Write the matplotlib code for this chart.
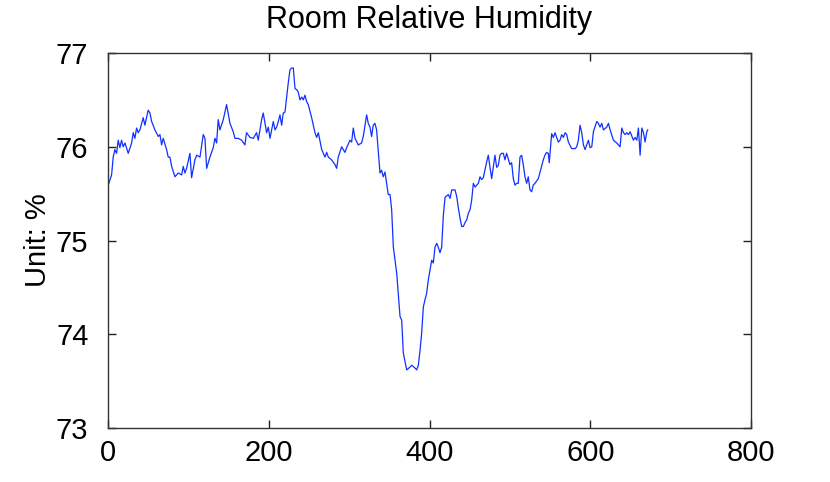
import matplotlib
matplotlib.use("Agg")
import matplotlib.pyplot as plt

# samples (sample index, relative humidity %)
sample = [0, 4.6, 6.6, 8.7, 10.8, 12.8, 14.9, 17.0, 19.0, 21.2, 25.3, 29.5, 31.5, 33.6, 35.7,
          37.7, 39.8, 43.9, 46.0, 50.1, 52.3, 54.4, 58.5, 62.6, 64.7, 66.8, 68.8, 73.0, 75.0,
          77.1, 79.3, 83.4, 87.5, 91.7, 93.7, 95.8, 97.9, 102.0, 104.1, 108.2, 110.4, 114.5,
          118.6, 120.7, 122.8, 126.9, 131.0, 133.1, 135.2, 137.2, 139.3, 143.5, 147.6, 151.8,
          155.9, 158.0, 162.1, 166.3, 170.4, 172.4, 176.7, 180.8, 184.9, 187.0, 191.2, 193.2,
          197.4, 199.5, 201.6, 205.7, 207.8, 209.9, 211.9, 214.0, 216.1, 218.1, 220.2, 222.3,
          224.3, 226.4, 228.5, 230.6, 232.7, 234.8, 236.8, 238.9, 241.0, 243.0, 245.1, 247.2,
          249.2, 253.4, 257.5, 259.6, 261.7, 265.9, 270.0, 272.1, 274.1, 278.3, 282.4, 284.5,
          286.5, 290.7, 294.8, 296.9, 301.1, 303.1, 305.2, 307.3, 311.4, 315.5, 317.6, 321.8,
          323.8, 325.9, 328.0, 330.0, 332.1, 334.2, 338.4, 340.4, 342.5, 344.6, 348.7, 350.9,
          352.9, 355.0, 359.2, 363.3, 365.4, 367.4, 371.6, 375.7, 377.8, 381.9, 384.0, 386.1,
          388.2, 390.2, 392.3, 394.4, 396.5, 398.5, 402.7, 404.7, 406.8, 408.9, 410.9, 413.0,
          415.1, 417.2, 419.3, 423.4, 425.5, 427.6, 431.7, 433.8, 435.8, 437.9, 440.0, 442.1,
          444.1, 446.2, 448.3, 450.4, 452.4, 454.5, 456.6, 460.7, 462.8, 464.8, 466.9, 471.1,
          473.1, 475.2, 477.3, 481.4, 483.5, 485.5, 487.6, 489.7, 491.8, 493.8, 495.9, 500.0,
          502.1, 504.2, 506.3, 508.3, 510.4, 512.5, 514.5, 516.6, 518.7, 520.8, 522.8, 524.9,
          527.0, 529.0, 531.1, 535.3, 539.4, 541.5, 543.5, 545.6, 547.7, 548.9, 551.9, 554.0,
          556.1, 560.2, 562.3, 564.4, 566.5, 568.6, 570.6, 572.7, 576.8, 581.0, 583.1, 585.1,
          587.2, 589.3, 591.4, 593.4, 597.6, 599.7, 601.8, 603.8, 608.0, 610.0, 612.1, 614.2,
          616.3, 620.4, 622.5, 624.6, 628.7, 632.9, 634.9, 637.0, 639.1, 641.2, 643.2, 645.3,
          647.4, 649.5, 653.6, 655.7, 657.8, 659.8, 661.9, 664.0, 666.1, 668.1, 670.2, 671.4]
humidity = [75.58, 75.70, 75.89, 75.97, 75.93, 76.07, 75.99, 76.07, 76.00, 76.04, 75.93, 76.04,
            76.15, 76.09, 76.20, 76.15, 76.18, 76.31, 76.23, 76.39, 76.36, 76.27, 76.18, 76.11,
            76.13, 76.02, 76.09, 75.97, 75.89, 75.89, 75.79, 75.68, 75.72, 75.70, 75.79, 75.72,
            75.77, 75.93, 75.67, 75.86, 75.91, 75.89, 76.13, 76.09, 75.77, 75.89, 75.99, 76.09,
            76.04, 76.29, 76.18, 76.29, 76.45, 76.25, 76.16, 76.09, 76.09, 76.07, 76.02, 76.15,
            76.10, 76.09, 76.15, 76.07, 76.29, 76.36, 76.15, 76.21, 76.09, 76.27, 76.18, 76.21,
            76.27, 76.34, 76.23, 76.36, 76.37, 76.53, 76.68, 76.82, 76.84, 76.84, 76.62, 76.61,
            76.58, 76.50, 76.53, 76.50, 76.55, 76.48, 76.45, 76.31, 76.15, 76.10, 76.15, 75.97,
            75.89, 75.94, 75.89, 75.86, 75.81, 75.77, 75.89, 76.00, 75.94, 75.99, 76.07, 76.05,
            76.20, 76.09, 76.02, 76.04, 76.11, 76.34, 76.25, 76.21, 76.11, 76.23, 76.25, 76.18,
            75.72, 75.75, 75.68, 75.73, 75.49, 75.49, 75.33, 74.93, 74.65, 74.19, 74.15, 73.80,
            73.62, 73.65, 73.67, 73.64, 73.62, 73.67, 73.83, 74.01, 74.29, 74.37, 74.44, 74.58,
            74.79, 74.76, 74.93, 74.97, 74.93, 74.87, 74.93, 75.27, 75.46, 75.49, 75.45, 75.54,
            75.54, 75.47, 75.35, 75.24, 75.15, 75.15, 75.19, 75.22, 75.29, 75.33, 75.43, 75.61,
            75.57, 75.61, 75.68, 75.65, 75.67, 75.84, 75.91, 75.78, 75.66, 75.91, 75.78, 75.80,
            75.91, 75.93, 75.93, 75.86, 75.93, 75.81, 75.83, 75.66, 75.59, 75.61, 75.61, 75.89,
            75.91, 75.81, 75.68, 75.61, 75.68, 75.54, 75.52, 75.59, 75.61, 75.66, 75.79, 75.86,
            75.91, 75.94, 75.93, 75.83, 76.14, 76.10, 76.15, 76.05, 76.07, 76.13, 76.10, 76.15,
            76.13, 76.05, 75.98, 75.98, 76.00, 76.07, 76.23, 76.15, 76.02, 75.97, 76.07, 75.99,
            76.00, 76.16, 76.27, 76.25, 76.21, 76.25, 76.18, 76.21, 76.25, 76.18, 76.07, 76.04,
            76.02, 76.00, 76.20, 76.15, 76.13, 76.15, 76.13, 76.16, 76.07, 76.10, 76.07, 76.20,
            75.91, 76.20, 76.15, 76.05, 76.16, 76.18]

xticks = [0, 200, 400, 600, 800]
yticks = [73, 74, 75, 76, 77]

plt.rcParams['font.family'] = ['Liberation Sans', 'DejaVu Sans']

fig = plt.figure(figsize=(8.3, 4.82), dpi=100)
ax = fig.add_axes([0.130, 0.112, 0.775, 0.778])

ax.plot(sample, humidity, color='#1030ff', lw=0.9)

ax.set_xlim(0, 800)
ax.set_ylim(73, 77)
ax.set_xticks(xticks)
ax.set_yticks(yticks)
ax.tick_params(direction='in', length=6, width=1, top=True, right=True,
               labelsize=21, colors='#222222', labelcolor='black')
ax.tick_params(axis='x', pad=8)
ax.tick_params(axis='y', pad=14)
for s in ax.spines.values():
    s.set_color('#333333')
    s.set_linewidth(1)

ax.set_title('Room Relative Humidity', fontsize=22, pad=18)
ax.set_ylabel('Unit: %', fontsize=21, labelpad=3)

fig.savefig('out.png', dpi=100)
